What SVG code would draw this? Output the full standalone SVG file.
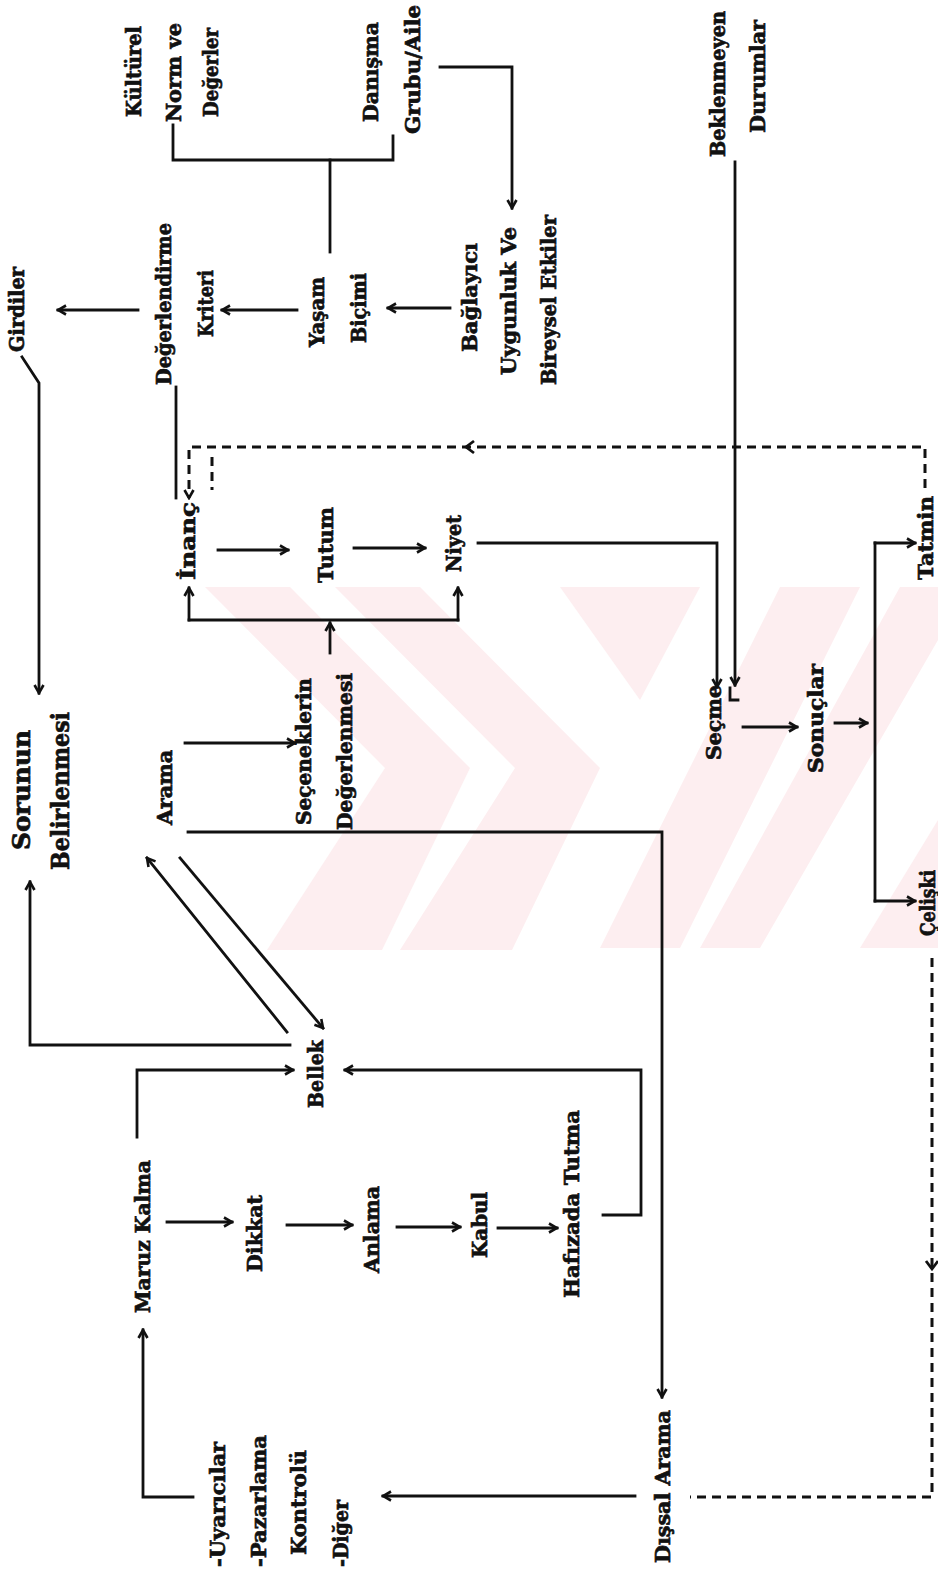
<svg xmlns="http://www.w3.org/2000/svg" width="938" height="1573" viewBox="0 0 938 1573">
<style>
.t{font-family:"DejaVu Serif","Liberation Serif",serif;font-weight:bold;font-size:21px;fill:#111;stroke:#111;stroke-width:0.7px}
.big{font-size:24px}
.c{fill:none;stroke:#111;stroke-width:2.8;stroke-linecap:square}
.d{fill:none;stroke:#111;stroke-width:3;stroke-dasharray:9 6}
.a{marker-end:url(#ah)}
.wm{fill:#fdeef0}
</style>
<defs>
<marker id="ah" viewBox="0 0 12 12" refX="10" refY="6" markerWidth="12" markerHeight="12" markerUnits="userSpaceOnUse" orient="auto">
<path d="M2,1.5 L10,6 L2,10.5" fill="none" stroke="#111" stroke-width="2.6"/>
</marker>
</defs>
<rect width="938" height="1573" fill="#fff"/>
<g id="watermark">
<polygon class="wm" points="205,587 290,587 470,768 385,768"/>
<polygon class="wm" points="385,768 470,768 382,950 267,950"/>
<polygon class="wm" points="335,587 420,587 600,768 515,768"/>
<polygon class="wm" points="515,768 600,768 512,950 400,950"/>
<polygon class="wm" points="560,587 700,587 640,700"/>
<polygon class="wm" points="780,587 860,587 680,948 600,948"/>
<polygon class="wm" points="900,587 938,587 938,640 760,948 700,948"/>
<polygon class="wm" points="938,820 938,948 860,948"/>
</g>
<g id="connectors">
<path class="c" d="M173,125 V160 H393 V136"/>
<path class="c" d="M330,160 V252"/>
<path class="c a" d="M440,67 H512 V208"/>
<path class="c a" d="M138,310 H58"/>
<path class="c a" d="M297,310 H222"/>
<path class="c a" d="M450,308 H388"/>
<path class="c a" d="M22,357 L39,383 V693"/>
<path class="c" d="M176,387 V498"/>
<path class="d a" d="M925,488 V447 H189 V498"/>
<path class="d" d="M212,457 V490"/>
<path d="M474,441 L466,447 L474,453" fill="none" stroke="#111" stroke-width="2.8"/>
<path class="c a" d="M218,550 H288"/>
<path class="c a" d="M354,548 H425"/>
<path class="c a" d="M330,653 V623"/>
<path class="c" d="M189,620 H458"/>
<path class="c a" d="M189,620 V588"/>
<path class="c a" d="M458,620 V588"/>
<path class="c a" d="M478,543 H717 V687"/>
<path class="c a" d="M735,162 V685"/>
<path class="c" d="M730,688 V700 H738"/>
<path class="c a" d="M743,727 H797"/>
<path class="c a" d="M835,723 H867"/>
<path class="c" d="M875,543 V901"/>
<path class="c a" d="M875,543 H915"/>
<path class="c a" d="M875,901 H915"/>
<path class="d" d="M932,958 V1497 H690"/>
<path d="M926,1261 L932,1269 L938,1261" fill="none" stroke="#111" stroke-width="2.8"/>
<path class="c a" d="M185,743 H295"/>
<path class="c a" d="M188,832 H662 V1397"/>
<path class="c a" d="M287,1032 L147,858"/>
<path class="c a" d="M180,858 L323,1028"/>
<path class="c a" d="M290,1045 H30 V882"/>
<path class="c a" d="M137,1137 V1070 H293"/>
<path class="c a" d="M603,1215 H641 V1070 H345"/>
<path class="c a" d="M167,1222 H232"/>
<path class="c a" d="M287,1225 H352"/>
<path class="c a" d="M397,1227 H460"/>
<path class="c a" d="M498,1228 H557"/>
<path class="c a" d="M193,1497 H143 V1330"/>
<path class="c a" d="M635,1496 H383"/>
</g>
<g id="n-kulturel">
<text class="t" transform="translate(141,117) rotate(-90)" textLength="91" lengthAdjust="spacingAndGlyphs">Kültürel</text>
<text class="t" transform="translate(181,122) rotate(-90)" textLength="99" lengthAdjust="spacingAndGlyphs">Norm ve</text>
<text class="t" transform="translate(218,117) rotate(-90)" textLength="89" lengthAdjust="spacingAndGlyphs">Değerler</text>
</g>
<g id="n-danisma">
<text class="t" transform="translate(378,122) rotate(-90)" textLength="100" lengthAdjust="spacingAndGlyphs">Danışma</text>
<text class="t" transform="translate(420,134) rotate(-90)" textLength="129" lengthAdjust="spacingAndGlyphs">Grubu/Aile</text>
</g>
<g id="n-beklenmeyen">
<text class="t" transform="translate(725,157) rotate(-90)" textLength="146" lengthAdjust="spacingAndGlyphs">Beklenmeyen</text>
<text class="t" transform="translate(765,133) rotate(-90)" textLength="113" lengthAdjust="spacingAndGlyphs">Durumlar</text>
</g>
<g id="n-girdiler">
<text class="t" transform="translate(24,352) rotate(-90)" textLength="85" lengthAdjust="spacingAndGlyphs">Girdiler</text>
</g>
<g id="n-degerlendirme">
<text class="t" transform="translate(171,385) rotate(-90)" textLength="162" lengthAdjust="spacingAndGlyphs">Değerlendirme</text>
<text class="t" transform="translate(213,337) rotate(-90)" textLength="67" lengthAdjust="spacingAndGlyphs">Kriteri</text>
</g>
<g id="n-yasam">
<text class="t" transform="translate(324,347) rotate(-90)" textLength="70" lengthAdjust="spacingAndGlyphs">Yaşam</text>
<text class="t" transform="translate(366,343) rotate(-90)" textLength="70" lengthAdjust="spacingAndGlyphs">Biçimi</text>
</g>
<g id="n-baglayici">
<text class="t" transform="translate(477,352) rotate(-90)" textLength="109" lengthAdjust="spacingAndGlyphs">Bağlayıcı</text>
<text class="t" transform="translate(516,375) rotate(-90)" textLength="148" lengthAdjust="spacingAndGlyphs">Uygunluk Ve</text>
<text class="t" transform="translate(556,385) rotate(-90)" textLength="170" lengthAdjust="spacingAndGlyphs">Bireysel Etkiler</text>
</g>
<g id="n-inanc">
<text class="t" transform="translate(195,580) rotate(-90)" textLength="78" lengthAdjust="spacingAndGlyphs">İnanç</text>
</g>
<g id="n-tutum">
<text class="t" transform="translate(333,583) rotate(-90)" textLength="76" lengthAdjust="spacingAndGlyphs">Tutum</text>
</g>
<g id="n-niyet">
<text class="t" transform="translate(461,572) rotate(-90)" textLength="57" lengthAdjust="spacingAndGlyphs">Niyet</text>
</g>
<g id="n-secme">
<text class="t" transform="translate(721,760) rotate(-90)" textLength="75" lengthAdjust="spacingAndGlyphs">Seçme</text>
</g>
<g id="n-sonuclar">
<text class="t" transform="translate(823,773) rotate(-90)" textLength="109" lengthAdjust="spacingAndGlyphs">Sonuçlar</text>
</g>
<g id="n-tatmin">
<text class="t" transform="translate(933,580) rotate(-90)" textLength="84" lengthAdjust="spacingAndGlyphs">Tatmin</text>
</g>
<g id="n-celiski">
<text class="t" transform="translate(935,936) rotate(-90)" textLength="66" lengthAdjust="spacingAndGlyphs">Çelişki</text>
</g>
<g id="n-sorunun">
<text class="t big" transform="translate(30,850) rotate(-90)" textLength="120" lengthAdjust="spacingAndGlyphs">Sorunun</text>
<text class="t big" transform="translate(69,870) rotate(-90)" textLength="158" lengthAdjust="spacingAndGlyphs">Belirlenmesi</text>
</g>
<g id="n-arama">
<text class="t" transform="translate(172,825) rotate(-90)" textLength="75" lengthAdjust="spacingAndGlyphs">Arama</text>
</g>
<g id="n-secenekler">
<text class="t" transform="translate(311,825) rotate(-90)" textLength="147" lengthAdjust="spacingAndGlyphs">Seçeneklerin</text>
<text class="t" transform="translate(352,830) rotate(-90)" textLength="157" lengthAdjust="spacingAndGlyphs">Değerlenmesi</text>
</g>
<g id="n-bellek">
<text class="t" transform="translate(323,1108) rotate(-90)" textLength="68" lengthAdjust="spacingAndGlyphs">Bellek</text>
</g>
<g id="n-maruz">
<text class="t" transform="translate(150,1313) rotate(-90)" textLength="153" lengthAdjust="spacingAndGlyphs">Maruz Kalma</text>
</g>
<g id="n-dikkat">
<text class="t" transform="translate(262,1272) rotate(-90)" textLength="77" lengthAdjust="spacingAndGlyphs">Dikkat</text>
</g>
<g id="n-anlama">
<text class="t" transform="translate(379,1273) rotate(-90)" textLength="87" lengthAdjust="spacingAndGlyphs">Anlama</text>
</g>
<g id="n-kabul">
<text class="t" transform="translate(487,1258) rotate(-90)" textLength="66" lengthAdjust="spacingAndGlyphs">Kabul</text>
</g>
<g id="n-hafizada">
<text class="t" transform="translate(579,1298) rotate(-90)" textLength="188" lengthAdjust="spacingAndGlyphs">Hafızada Tutma</text>
</g>
<g id="n-uyaricilar">
<text class="t" transform="translate(225,1567) rotate(-90)" textLength="125" lengthAdjust="spacingAndGlyphs">-Uyarıcılar</text>
<text class="t" transform="translate(266,1567) rotate(-90)" textLength="132" lengthAdjust="spacingAndGlyphs">-Pazarlama</text>
<text class="t" transform="translate(306,1555) rotate(-90)" textLength="105" lengthAdjust="spacingAndGlyphs">Kontrolü</text>
<text class="t" transform="translate(348,1567) rotate(-90)" textLength="67" lengthAdjust="spacingAndGlyphs">-Diğer</text>
</g>
<g id="n-dissal">
<text class="t" transform="translate(670,1563) rotate(-90)" textLength="153" lengthAdjust="spacingAndGlyphs">Dışsal Arama</text>
</g>
</svg>
